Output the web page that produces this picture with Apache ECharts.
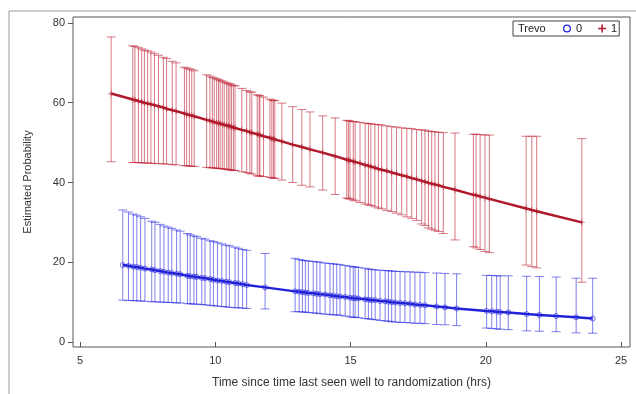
<!DOCTYPE html>
<html>
<head>
<meta charset="utf-8">
<script src="https://cdn.jsdelivr.net/npm/echarts@6/dist/echarts.min.js"></script>
<style>html,body{margin:0;padding:0;background:#fff;}#c{width:636px;height:394px;}</style>
</head>
<body>
<div id="c"></div>
<script>
// Trevo = 1 (red)
var redX   = [6.15,6.95,7.03,7.16,7.28,7.38,7.5,7.62,7.75,7.9,8.08,8.2,8.41,8.55,8.86,8.94,9.04,9.13,9.22,9.68,9.8,9.89,9.96,10.05,10.12,10.18,10.26,10.33,10.42,10.48,10.54,10.6,10.67,10.73,10.98,11.16,11.28,11.35,11.55,11.62,11.65,11.78,12.02,12.09,12.15,12.2,12.46,12.86,13.2,13.5,13.97,14.43,14.86,14.92,14.98,15.1,15.17,15.35,15.54,15.66,15.75,15.9,16.03,16.15,16.34,16.52,16.7,16.89,17.08,17.26,17.44,17.63,17.75,17.88,18.0,18.12,18.25,18.43,18.86,19.54,19.64,19.79,19.97,20.13,21.49,21.7,21.88,23.55];
var redMid = [62.3,60.8,60.7,60.4,60.2,60.0,59.8,59.6,59.4,59.1,58.8,58.5,58.1,57.9,57.3,57.1,56.9,56.8,56.6,55.7,55.5,55.3,55.2,55.0,54.9,54.8,54.6,54.5,54.3,54.2,54.1,54.0,53.8,53.7,53.2,52.9,52.6,52.5,52.1,52.0,51.9,51.6,51.2,51.0,50.9,50.8,50.3,49.5,48.9,48.3,47.5,46.6,45.7,45.6,45.5,45.3,45.1,44.8,44.4,44.2,44.0,43.7,43.4,43.2,42.9,42.5,42.2,41.8,41.5,41.1,40.8,40.4,40.2,39.9,39.7,39.5,39.3,38.9,38.2,36.9,36.8,36.5,36.2,35.9,33.5,33.1,32.8,30.0];
var redLo  = [45.2,45.0,45.0,45.0,44.9,44.9,44.9,44.8,44.8,44.7,44.7,44.6,44.5,44.4,44.2,44.2,44.1,44.1,44.0,43.8,43.7,43.7,43.6,43.6,43.5,43.5,43.4,43.4,43.3,43.2,43.2,43.1,43.0,43.0,42.7,42.5,42.3,42.1,41.7,41.6,41.6,41.5,41.3,41.2,41.1,41.0,40.6,40.0,39.3,38.9,38.1,37.0,36.1,36.0,35.8,35.6,35.4,35.0,34.6,34.4,34.2,33.9,33.6,33.4,33.0,32.7,32.3,31.9,31.4,31.0,30.5,29.6,29.2,28.6,28.3,28.0,27.7,27.2,25.6,23.9,23.6,23.2,22.7,22.4,19.3,18.9,18.6,15.0];
var redHi  = [76.5,74.3,74.1,73.8,73.5,73.2,73.0,72.7,72.3,71.9,71.4,71.1,70.4,70.0,68.9,68.7,68.5,68.3,68.0,67.0,66.7,66.4,66.2,66.0,65.8,65.6,65.4,65.2,65.0,64.8,64.7,64.5,64.3,64.2,63.6,63.1,62.8,62.6,62.0,61.8,61.7,61.4,60.9,60.7,60.6,60.5,59.9,59.0,58.3,57.7,56.7,56.2,55.6,55.5,55.4,55.3,55.2,55.1,54.9,54.8,54.7,54.6,54.5,54.4,54.2,54.0,53.9,53.7,53.6,53.5,53.3,53.2,53.1,52.9,52.8,52.7,52.6,52.5,52.4,52.1,52.1,52.0,51.9,51.9,51.6,51.6,51.6,51.0];

// Trevo = 0 (blue)
var blueX   = [6.58,6.79,6.97,7.1,7.24,7.4,7.65,7.77,7.96,8.1,8.26,8.39,8.57,8.7,8.97,9.07,9.21,9.31,9.5,9.62,9.81,9.93,10.08,10.24,10.4,10.52,10.73,10.85,11.01,11.16,11.84,12.95,13.1,13.22,13.33,13.44,13.62,13.75,13.87,14.06,14.24,14.36,14.49,14.61,14.8,14.98,15.1,15.17,15.29,15.54,15.66,15.78,15.91,16.09,16.28,16.4,16.52,16.65,16.83,17.01,17.2,17.38,17.57,17.75,18.18,18.49,18.92,20.03,20.22,20.4,20.53,20.83,21.51,21.98,22.6,23.34,23.95];
var blueMid = [19.3,19.1,18.9,18.8,18.6,18.4,18.2,18.0,17.8,17.6,17.4,17.3,17.1,17.0,16.6,16.5,16.4,16.3,16.1,16.0,15.8,15.6,15.4,15.3,15.1,15.0,14.8,14.7,14.5,14.3,13.7,12.7,12.6,12.5,12.4,12.3,12.2,12.1,12.0,11.9,11.7,11.6,11.5,11.4,11.3,11.1,11.0,11.0,10.9,10.7,10.6,10.5,10.5,10.3,10.2,10.1,10.0,9.9,9.8,9.7,9.6,9.4,9.3,9.2,8.9,8.7,8.4,7.8,7.7,7.6,7.5,7.4,7.0,6.8,6.5,6.2,5.9];
var blueLo  = [10.5,10.4,10.4,10.3,10.3,10.2,10.1,10.1,10.0,10.0,9.9,9.9,9.8,9.8,9.6,9.6,9.5,9.5,9.4,9.3,9.2,9.1,9.0,8.9,8.8,8.7,8.6,8.6,8.5,8.4,8.3,7.6,7.6,7.5,7.5,7.4,7.3,7.2,7.1,7.0,6.9,6.8,6.8,6.7,6.5,6.3,6.2,6.2,6.1,5.9,5.8,5.7,5.6,5.4,5.3,5.2,5.1,5.0,4.9,4.9,4.8,4.7,4.7,4.6,4.4,4.3,4.1,3.5,3.4,3.3,3.2,3.1,2.8,2.7,2.6,2.3,2.2];
var blueHi  = [33.1,32.6,32.1,31.8,31.4,31.0,30.3,30.0,29.5,29.1,28.8,28.5,28.1,27.8,27.2,26.9,26.6,26.4,26.0,25.8,25.4,25.2,24.9,24.6,24.3,24.1,23.8,23.5,23.2,23.0,22.2,21.0,20.7,20.5,20.4,20.3,20.2,20.1,20.0,19.8,19.7,19.6,19.5,19.4,19.2,19.0,18.9,18.8,18.7,18.5,18.3,18.2,18.1,18.0,17.9,17.9,17.8,17.7,17.7,17.6,17.6,17.5,17.5,17.4,17.3,17.2,17.1,16.7,16.7,16.6,16.6,16.6,16.5,16.4,16.3,16.0,16.0];

var xTicks = [5,10,15,20,25];
var yTicks = [0,20,40,60,80];

function zip3(a,b,c){var r=[];for(var i=0;i<a.length;i++){r.push([a[i],b[i],c[i]]);}return r;}
function zip2(a,b){var r=[];for(var i=0;i<a.length;i++){r.push([a[i],b[i]]);}return r;}

function errRender(color){
  return function(params, api){
    var x = api.value(0);
    var lo = api.coord([x, api.value(1)]);
    var hi = api.coord([x, api.value(2)]);
    var hw = 4.5;
    var st = {stroke: color, lineWidth: 1};
    return {type:'group', children:[
      {type:'line', shape:{x1:lo[0],y1:lo[1],x2:hi[0],y2:hi[1]}, style:st},
      {type:'line', shape:{x1:lo[0]-hw,y1:lo[1],x2:lo[0]+hw,y2:lo[1]}, style:st},
      {type:'line', shape:{x1:hi[0]-hw,y1:hi[1],x2:hi[0]+hw,y2:hi[1]}, style:st}
    ]};
  };
}

var plusPath = 'path://M4,0L6,0L6,4L10,4L10,6L6,6L6,10L4,10L4,6L0,6L0,4L4,4Z';
var ringPath = 'path://M5,0A5,5,0,1,1,4.99,0ZM5,1.6A3.4,3.4,0,1,0,5.01,1.6Z';
var blueCol = '#2222d8';
var redCol = '#b01a2b';
var font = 'Liberation Sans, Arial, sans-serif';

var chart = echarts.init(document.getElementById('c'), null, {renderer:'canvas'});
chart.setOption({
  animation: false,
  backgroundColor: '#fff',
  grid: {left:73, top:17, right:6, bottom:47, show:true, borderColor:'#555', borderWidth:1},
  xAxis: {
    type:'value', min:4.74, max:25.33,
    name:'Time since time last seen well to randomization (hrs)',
    nameLocation:'middle', nameGap:30,
    nameTextStyle:{fontFamily:font, fontSize:12, color:'#333'},
    axisLine:{show:false},
    splitLine:{show:false},
    axisTick:{show:true, inside:false, length:5, lineStyle:{color:'#555'}, customValues:xTicks},
    axisLabel:{fontFamily:font, fontSize:11, color:'#333', margin:8, customValues:xTicks}
  },
  yAxis: {
    type:'value', min:-1.25, max:81.5,
    name:'Estimated Probability',
    nameLocation:'middle', nameGap:40, nameRotate:90,
    nameTextStyle:{fontFamily:font, fontSize:11, color:'#333'},
    axisLine:{show:false},
    splitLine:{show:false},
    axisTick:{show:true, inside:false, length:5, lineStyle:{color:'#555'}, customValues:yTicks},
    axisLabel:{fontFamily:font, fontSize:11, color:'#333', margin:8, customValues:yTicks}
  },
  legend: {
    left:513, top:21, orient:'horizontal', itemWidth:8, itemHeight:8, itemGap:16,
    padding:[2,2,2,50],
    borderColor:'#444', borderWidth:1, backgroundColor:'#fff',
    textStyle:{fontFamily:font, fontSize:11, color:'#222'},
    data:[{name:'0', icon:ringPath, itemStyle:{color:blueCol}},
          {name:'1', icon:plusPath, itemStyle:{color:redCol}}]
  },
  graphic: [
    {type:'rect', shape:{x:9, y:11, width:640, height:400}, style:{fill:'none', stroke:'#9a9a9a', lineWidth:1}, silent:true, z:-10},
    {type:'text', left:518, top:23, style:{text:'Trevo', font:'11px Liberation Sans, Arial, sans-serif', fill:'#222'}, z:100, zlevel:1}
  ],
  series: [
    {name:'0', type:'custom', renderItem:errRender('rgba(34,34,225,0.58)'), data:zip3(blueX,blueLo,blueHi), encode:{x:0,y:[1,2]}, z:2, itemStyle:{color:blueCol}},
    {name:'1', type:'custom', renderItem:errRender('rgba(190,30,50,0.6)'), data:zip3(redX,redLo,redHi), encode:{x:0,y:[1,2]}, z:2, itemStyle:{color:redCol}},
    {name:'0', type:'line', data:zip2(blueX,blueMid), symbol:'circle', symbolSize:5, showSymbol:true,
     lineStyle:{color:blueCol, width:2.5}, itemStyle:{color:'rgba(255,255,255,0)', borderColor:'rgba(34,34,216,0.6)', borderWidth:1}, z:3},
    {name:'1', type:'line', data:zip2(redX,redMid), symbol:plusPath, symbolSize:6, showSymbol:true,
     lineStyle:{color:redCol, width:2.5}, itemStyle:{color:'rgba(176,26,43,0.5)'}, z:3}
  ]
});
</script>
</body>
</html>
